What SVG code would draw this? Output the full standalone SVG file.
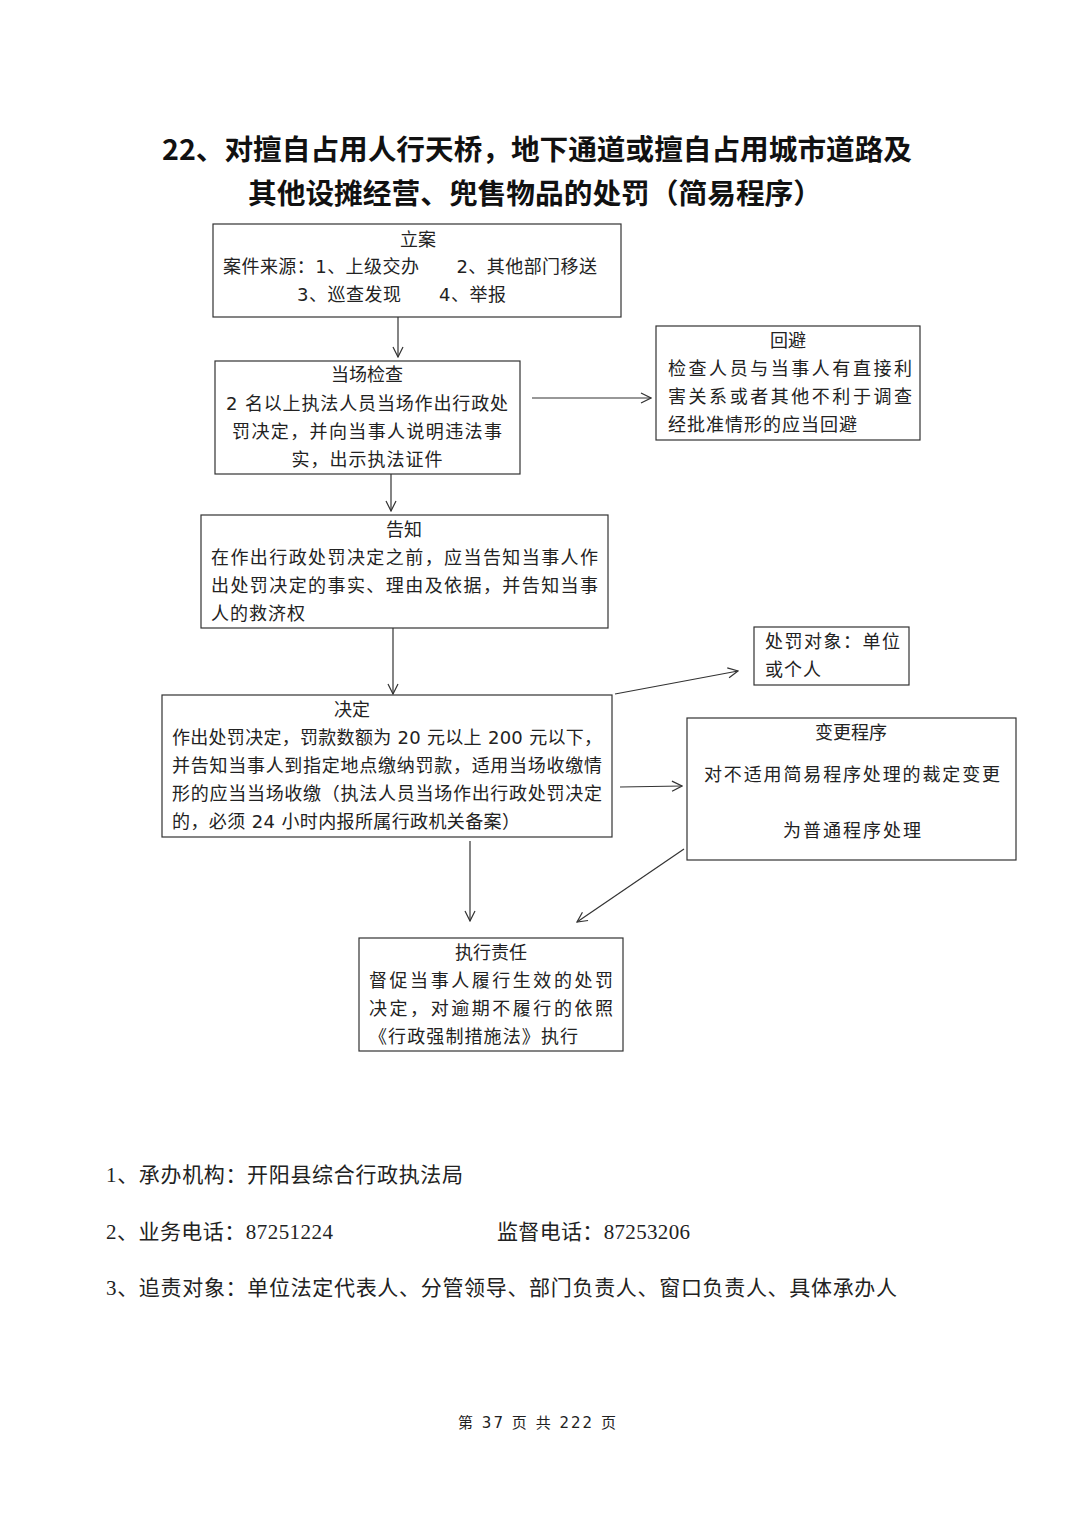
<svg xmlns="http://www.w3.org/2000/svg" width="1074" height="1520" viewBox="0 0 1074 1520">
<style>
text{white-space:pre}
.box{fill:#fff;stroke:#333;stroke-width:1.2}
.t{font-family:"DejaVu Sans","Noto Sans CJK SC",sans-serif;font-size:18px;fill:#222}
.c{text-anchor:middle}
.title{font-family:"Noto Sans CJK SC",sans-serif;font-size:28px;font-weight:bold;fill:#111;text-anchor:middle}
.f{font-family:"Liberation Serif","Noto Sans CJK SC",serif;font-size:21px;fill:#222}
.pg{font-family:"DejaVu Sans","Noto Sans CJK SC",sans-serif;font-size:15px;fill:#222}
.ln{stroke:#333;stroke-width:1.2;fill:none}
</style>
<defs>
<marker id="ah" viewBox="0 0 12 12" refX="11" refY="6" markerWidth="12" markerHeight="12" markerUnits="userSpaceOnUse" orient="auto">
<path d="M1,1 L11,6 L1,11" fill="none" stroke="#333" stroke-width="1.2"/>
</marker>
</defs>
<rect width="1074" height="1520" fill="#fff"/>
<text class="title" x="537" y="160" textLength="750" lengthAdjust="spacingAndGlyphs">22、对擅自占用人行天桥，地下通道或擅自占用城市道路及</text>
<text class="title" x="535" y="204" textLength="574" lengthAdjust="spacingAndGlyphs">其他设摊经营、兜售物品的处罚（简易程序）</text>

<g id="connectors">
<line class="ln" x1="398" y1="317" x2="398" y2="357" marker-end="url(#ah)"/>
<line class="ln" x1="532" y1="398" x2="651" y2="398" marker-end="url(#ah)"/>
<line class="ln" x1="391" y1="474" x2="391" y2="511" marker-end="url(#ah)"/>
<line class="ln" x1="393" y1="628" x2="393" y2="694" marker-end="url(#ah)"/>
<line class="ln" x1="615" y1="694" x2="738" y2="671" marker-end="url(#ah)"/>
<line class="ln" x1="620" y1="787" x2="682" y2="786" marker-end="url(#ah)"/>
<line class="ln" x1="470" y1="841" x2="470" y2="921" marker-end="url(#ah)"/>
<line class="ln" x1="684" y1="849" x2="577" y2="922" marker-end="url(#ah)"/>
</g>

<g id="node-lian">
<rect class="box" x="213" y="224" width="408" height="93"/>
<text class="t c" x="418" y="246">立案</text>
<text class="t" x="223" y="273" textLength="374">案件来源：1、上级交办      2、其他部门移送</text>
<text class="t" x="297" y="301" textLength="209">3、巡查发现      4、举报</text>
</g>

<g id="node-jiancha">
<rect class="box" x="215" y="361" width="305" height="113"/>
<text class="t c" x="367" y="381">当场检查</text>
<text class="t c" x="367" y="410" textLength="282">2 名以上执法人员当场作出行政处</text>
<text class="t c" x="367" y="438" textLength="270">罚决定，并向当事人说明违法事</text>
<text class="t c" x="367" y="466" textLength="151">实，出示执法证件</text>
</g>

<g id="node-huibi">
<rect class="box" x="656" y="326" width="264" height="114"/>
<text class="t c" x="788" y="347">回避</text>
<text class="t" x="668" y="375" textLength="244">检查人员与当事人有直接利</text>
<text class="t" x="668" y="403" textLength="244">害关系或者其他不利于调查</text>
<text class="t" x="668" y="431" textLength="189">经批准情形的应当回避</text>
</g>

<g id="node-gaozhi">
<rect class="box" x="201" y="515" width="407" height="113"/>
<text class="t c" x="404" y="536">告知</text>
<text class="t" x="211" y="564" textLength="387">在作出行政处罚决定之前，应当告知当事人作</text>
<text class="t" x="211" y="592" textLength="387">出处罚决定的事实、理由及依据，并告知当事</text>
<text class="t" x="211" y="620" textLength="94">人的救济权</text>
</g>

<g id="node-jueding">
<rect class="box" x="162" y="695" width="450" height="142"/>
<text class="t c" x="352" y="716">决定</text>
<text class="t" x="172" y="744" textLength="430">作出处罚决定，罚款数额为 20 元以上 200 元以下，</text>
<text class="t" x="172" y="772" textLength="430">并告知当事人到指定地点缴纳罚款，适用当场收缴情</text>
<text class="t" x="172" y="800" textLength="430">形的应当当场收缴（执法人员当场作出行政处罚决定</text>
<text class="t" x="172" y="828" textLength="348">的，必须 24 小时内报所属行政机关备案）</text>
</g>

<g id="node-duixiang">
<rect class="box" x="754" y="627" width="155" height="58"/>
<text class="t" x="765" y="648" textLength="135">处罚对象：单位</text>
<text class="t" x="765" y="676" textLength="56">或个人</text>
</g>

<g id="node-biangeng">
<rect class="box" x="687" y="718" width="329" height="142"/>
<text class="t c" x="851" y="739">变更程序</text>
<text class="t c" x="852" y="781" textLength="296">对不适用简易程序处理的裁定变更</text>
<text class="t c" x="852" y="837" textLength="138">为普通程序处理</text>
</g>

<g id="node-zhixing">
<rect class="box" x="359" y="938" width="264" height="113"/>
<text class="t c" x="491" y="959">执行责任</text>
<text class="t" x="369" y="987" textLength="244">督促当事人履行生效的处罚</text>
<text class="t" x="369" y="1015" textLength="244">决定，对逾期不履行的依照</text>
<text class="t" x="369" y="1043" textLength="209">《行政强制措施法》执行</text>
</g>

<text class="f" x="106" y="1182" textLength="357">1、承办机构：开阳县综合行政执法局</text>
<text class="f" x="106" y="1239" textLength="227">2、业务电话：87251224</text>
<text class="f" x="497" y="1239" textLength="193">监督电话：87253206</text>
<text class="f" x="106" y="1295" textLength="791">3、追责对象：单位法定代表人、分管领导、部门负责人、窗口负责人、具体承办人</text>
<text class="pg" x="458" y="1428" textLength="158">第 37 页 共 222 页</text>
</svg>
